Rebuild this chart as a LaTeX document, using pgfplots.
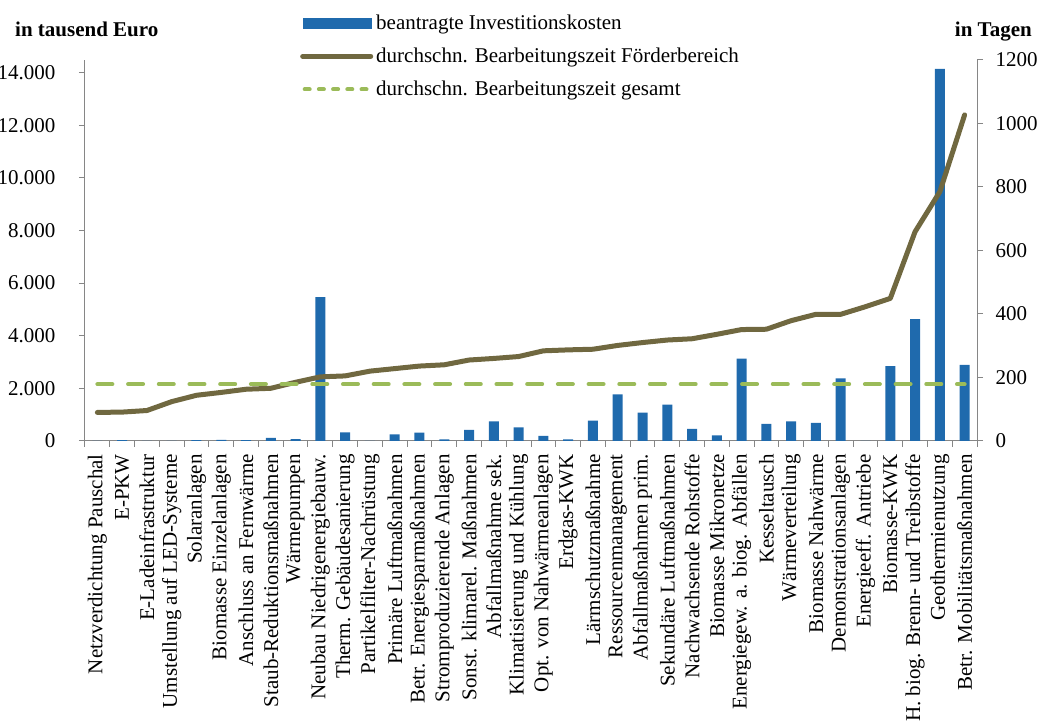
\documentclass[border=0pt]{standalone}
\usepackage{pgfplots}
\pgfplotsset{compat=1.18}
\usepackage{fontspec}
\setmainfont{Liberation Serif}
\definecolor{barblue}{RGB}{31,106,173}
\definecolor{olivel}{RGB}{112,104,64}
\definecolor{lgreen}{RGB}{155,187,89}
\definecolor{axgray}{RGB}{134,134,134}
\pgfplotstableread{
x bar line avg
0 0 90 179
1 30 91 179
2 0 96 179
3 0 124 179
4 30 144 179
5 40 153 179
6 30 163 179
7 115 166 179
8 75 185 179
9 5470 202 179
10 330 205 179
11 0 220 179
12 253 228 179
13 317 236 179
14 63 240 179
15 418 255 179
16 748 260 179
17 520 266 179
18 190 284 179
19 63 287 179
20 773 289 179
21 1775 301 179
22 1077 310 179
23 1382 318 179
24 456 322 179
25 216 336 179
26 3131 351 179
27 647 352 179
28 748 379 179
29 685 399 179
30 2384 399 179
31 0 423 179
32 2841 449 179
33 4628 659 179
34 14140 785 179
35 2891 1027 179
}\datatable
\newcommand{\fs}{\fontsize{21}{25}\selectfont}
\begin{document}
\begin{tikzpicture}
\useasboundingbox (-85pt,-286pt) rectangle (952pt,441pt);
\begin{axis}[
  name=ax1,
  clip=false,
  scale only axis, width=892pt, height=381pt,
  xmin=-0.5, xmax=35.5, ymin=0, ymax=14480,
  axis x line*=bottom, axis y line*=left,
  axis line style={axgray, line width=1pt, -},
  tick align=outside,
  xtick={0,...,35},
  xticklabels={Netzverdichtung Pauschal, E-PKW, E-Ladeinfrastruktur, Umstellung auf LED-Systeme, Solaranlagen, Biomasse Einzelanlagen, Anschluss an Fernwärme, Staub-Reduktionsmaßnahmen, Wärmepumpen, Neubau Niedrigenergiebauw., Therm. Gebäudesanierung, Partikelfilter-Nachrüstung, Primäre Luftmaßnahmen, Betr. Energiesparmaßnahmen, Stromproduzierende Anlagen, Sonst. klimarel. Maßnahmen, Abfallmaßnahme sek., Klimatisierung und Kühlung, Opt. von Nahwärmeanlagen, Erdgas-KWK, Lärmschutzmaßnahme, Ressourcenmanagement, Abfallmaßnahmen prim., Sekundäre Luftmaßnahmen, Nachwachsende Rohstoffe, Biomasse Mikronetze, Energiegew. a. biog. Abfällen, Kesseltausch, Wärmeverteilung, Biomasse Nahwärme, Demonstrationsanlagen, Energieeff. Antriebe, Biomasse-KWK, H. biog. Brenn- und Treibstoffe, Geothermienutzung, Betr. Mobilitätsmaßnahmen},
  x tick label style={rotate=90, anchor=east, font=\fs, inner sep=0pt, xshift=-7pt},
  major x tick style={draw=none},
  minor xtick={-0.5,0.5,...,35.5},
  minor x tick style={axgray, line width=1pt},
  minor tick length=6pt,
  ytick={0,2000,...,14000},
  y tick style={axgray, line width=1pt},
  major tick length=6pt,
  y tick label style={font=\fs, xshift=-20pt},
  scaled y ticks=false,
  /pgf/number format/.cd, 1000 sep={.}, assume math mode=true,
]
\addplot[ybar, bar width=10pt, fill=barblue, draw=none] table[x=x, y=bar] {\datatable};
\node[font=\fs\bfseries, anchor=base west, inner sep=0pt] at ([xshift=-70pt, yshift=23.3pt]rel axis cs:0,1) {in tausend Euro};
\node[font=\fs\bfseries, anchor=base east, inner sep=0pt] at ([xshift=55pt, yshift=23.3pt]rel axis cs:1,1) {in Tagen};
\end{axis}
\begin{axis}[
  scale only axis, width=892pt, height=381pt,
  xmin=-0.5, xmax=35.5, ymin=0, ymax=1200,
  axis x line=none, axis y line*=right,
  axis line style={axgray, line width=1pt, -},
  tick align=outside,
  ytick={0,200,...,1200},
  y tick style={axgray, line width=1pt},
  major tick length=6pt,
  y tick label style={font=\fs, xshift=9pt},
  /pgf/number format/.cd, 1000 sep={}, assume math mode=true,
  /pgfplots/.cd,
  legend style={at={([xshift=-85pt+300pt, yshift=47pt]axis description cs:0,1)}, anchor=north west, draw=none, fill=none, font=\fs, row sep=13pt, inner sep=0pt, /tikz/every odd column/.append style={column sep=1pt}},
  legend cell align=left,
]
\addlegendimage{legend image code/.code={\fill[barblue] (0pt,-5.3pt) rectangle (68pt,5.3pt);}}
\addlegendentry{beantragte Investitionskosten}
\addplot[olivel, line width=5pt, line join=round, line cap=round, legend image code/.code={\draw[olivel, line width=5pt, line cap=round] (0pt,0pt) -- (68pt,0pt);}] table[x=x, y=line] {\datatable};
\addlegendentry{durchschn. Bearbeitungszeit Förderbereich}
\addplot[lgreen, line width=4pt, line cap=round, dash pattern=on 15pt off 15.7pt, legend image code/.code={\draw[lgreen, line width=4pt, line cap=round, dash pattern=on 5pt off 9.2pt] (2pt,0pt) -- (68pt,0pt);}] table[x=x, y=avg] {\datatable};
\addlegendentry{durchschn. Bearbeitungszeit gesamt}
\end{axis}
\end{tikzpicture}
\end{document}
